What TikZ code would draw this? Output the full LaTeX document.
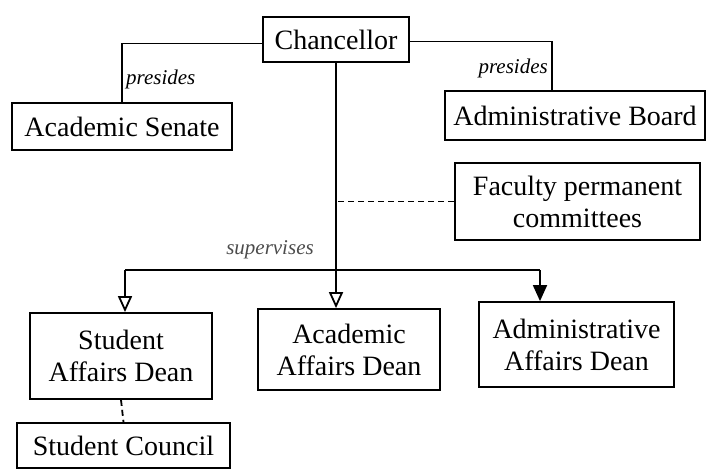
\documentclass[tikz,border=0pt]{standalone}
\usepackage{fontspec}
\setmainfont{Liberation Serif}
\usetikzlibrary{arrows.meta}
\begin{document}
\begin{tikzpicture}[x=1pt,y=-1pt,
  box/.style={draw,line width=1.8pt,inner sep=0pt,align=center,font=\fontsize{28}{32}\selectfont},
  rel/.style={font=\itshape\fontsize{21}{24}\selectfont,inner sep=0pt},
  link/.style={line width=1.8pt},
  arr/.style={line width=1.8pt,-{Triangle[open,length=16pt,width=14pt,line width=1.8pt]}},
  arrf/.style={line width=1.8pt,-{Triangle[length=16pt,width=14pt]}}]
\useasboundingbox (0,0) rectangle (708,469);
\node[box,minimum width=146pt,minimum height=45pt] (ch) at (336,39.5) {Chancellor};
\node[box,minimum width=220pt,minimum height=47pt] (as) at (122,126.5) {Academic Senate};
\node[box,minimum width=260pt,minimum height=49pt] (ab) at (575,115.5) {Administrative Board};
\node[box,minimum width=245pt,minimum height=77pt] (fpc) at (577.5,201.5) {Faculty permanent\\committees};
\node[box,minimum width=182pt,minimum height=86pt] (sad) at (121,356) {Student\\Affairs Dean};
\node[box,minimum width=182pt,minimum height=81pt] (aad) at (349,349.5) {Academic\\Affairs Dean};
\node[box,minimum width=195pt,minimum height=85pt] (adad) at (576.5,344.5) {Administrative\\Affairs Dean};
\node[box,minimum width=213pt,minimum height=45pt] (sc) at (123.5,445.5) {Student Council};
\node[rel,anchor=west] (p1) at (126,79) {presides};
\node[rel,anchor=east] (p2) at (548,68) {presides};
\node[rel,text=black!70] (sv) at (270,250) {supervises};
\coordinate (lc) at ([yshift=-4pt]ch.west);
\coordinate (rc) at ([yshift=-2pt]ch.east);
\coordinate (abt) at ([xshift=-23pt]ab.north);
\draw[link] (lc) -| (as.north);
\draw[link] (rc) -| (abt);
\coordinate (sl) at (125,270);
\coordinate (sr) at (540,270);
\draw[link] (sl) -- (sr);
\draw[arr] (sl) -- (sl |- sad.north);
\draw[arrf] (sr) -- (sr |- adad.north);
\draw[arr] (ch.south) -- (ch.south |- aad.north);
\draw[link,dashed,dash pattern=on 6pt off 4pt] (fpc.west) -- (fpc.west -| ch.south);
\draw[link,dashed,dash pattern=on 6pt off 4pt] (sad.south) -- (sc.north);
\end{tikzpicture}
\end{document}
